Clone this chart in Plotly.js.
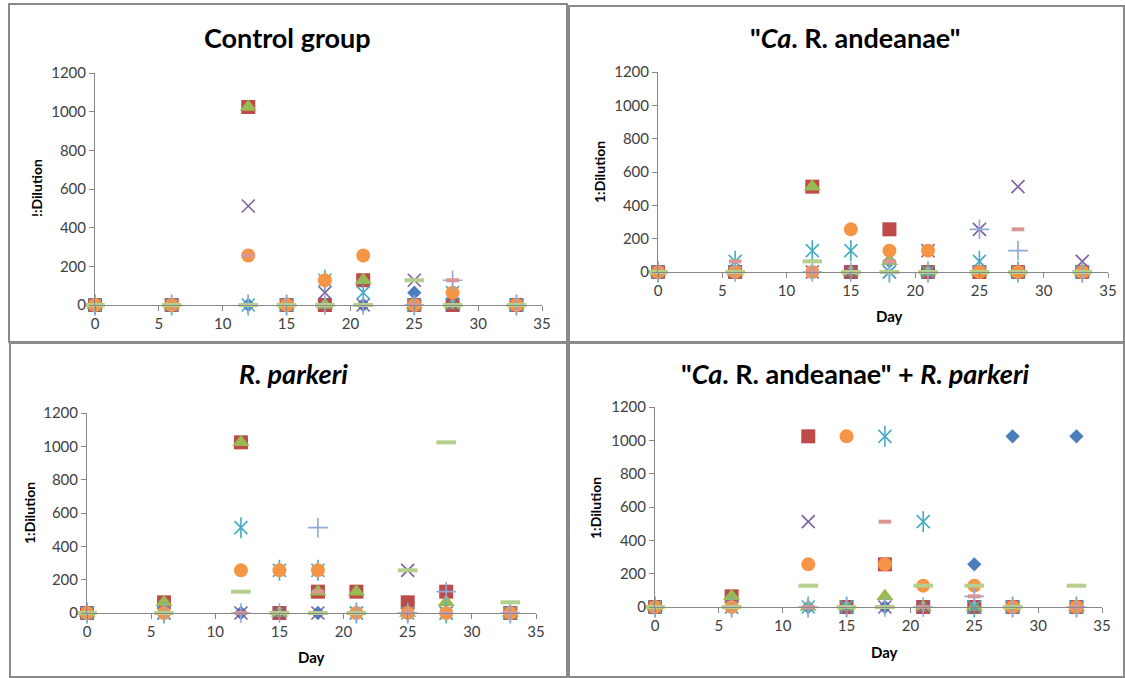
<!DOCTYPE html>
<html>
<head>
<meta charset="utf-8">
<script src="https://cdn.plot.ly/plotly-3.0.1.min.js"></script>
<style>
html,body{margin:0;padding:0;background:#fff;}
#chart{width:1125px;height:678px;}
</style>
</head>
<body>
<div id="chart"></div>
<script>
// Sampling days (x values, shared by every series)
var days = [0, 6, 12, 15, 18, 21, 25, 28, 33];

// Panel titles and axis titles
var panelTitles = [
  'Control group',
  '"<i>Ca</i>. R. andeanae"',
  '<i>R. parkeri</i>',
  '"<i>Ca</i>. R. andeanae" + <i>R. parkeri</i>'
];
var yTitles = ['!:Dilution', '1:Dilution', '1:Dilution', '1:Dilution'];
var xTitles = ['', 'Day', 'Day', 'Day'];
var xTickVals = [0, 5, 10, 15, 20, 25, 30, 35];
var yTickVals = [0, 200, 400, 600, 800, 1000, 1200];

// Series (one row per series, in Excel marker order:
// diamond, square, triangle, x, star, circle, plus, short dash, long dash)
var controlGroup = [
  [0, 0, 0,    0, 0,   0,   64,  0,   0],
  [0, 0, 1024, 0, 0,   128, 0,   0,   0],
  [0, 0, 1024, 0, 0,   128, 0,   0,   0],
  [0, 0, 512,  0, 64,  0,   128, 0,   0],
  [0, 0, 0,    0, 128, 64,  0,   64,  0],
  [0, 0, 256,  0, 128, 256, 0,   64,  0],
  [0, 0, 0,    0, 0,   0,   0,   128, 0],
  [0, 0, 256,  0, 0,   0,   0,   128, 0],
  [0, 0, 0,    0, 0,   0,   128, 0,   0]
];
var andeanae = [
  [0, 0,  0,   0,   64,  0,   0,   0,   0],
  [0, 0,  512, 0,   256, 0,   0,   0,   0],
  [0, 0,  512, 0,   64,  0,   0,   0,   0],
  [0, 0,  0,   0,   0,   128, 256, 512, 64],
  [0, 64, 128, 128, 0,   0,   64,  0,   0],
  [0, 0,  0,   256, 128, 128, 0,   0,   0],
  [0, 0,  0,   0,   0,   0,   256, 128, 0],
  [0, 64, 0,   0,   64,  0,   0,   256, 0],
  [0, 0,  64,  0,   0,   0,   0,   0,   0]
];
var parkeri = [
  [0, 0,  0,    0,   0,   0,   0,   0,    0],
  [0, 64, 1024, 0,   128, 128, 64,  128,  0],
  [0, 64, 1024, 0,   128, 128, 0,   64,   0],
  [0, 0,  0,    0,   0,   0,   256, 0,    0],
  [0, 0,  512,  256, 256, 0,   0,   0,    0],
  [0, 0,  256,  256, 256, 0,   0,   0,    0],
  [0, 0,  0,    0,   512, 0,   0,   128,  0],
  [0, 0,  0,    0,   128, 0,   0,   0,    0],
  [0, 0,  128,  0,   0,   0,   256, 1024, 64]
];
var coinfected = [
  [0, 0,  0,    0,    0,    0,   256, 1024, 1024],
  [0, 64, 1024, 0,    256,  0,   0,   0,    0],
  [0, 64, 0,    0,    64,   0,   0,   0,    0],
  [0, 0,  512,  0,    0,    0,   0,   0,    0],
  [0, 0,  0,    0,    1024, 512, 0,   0,    0],
  [0, 0,  256,  1024, 256,  128, 128, 0,    0],
  [0, 0,  0,    0,    0,    0,   64,  0,    0],
  [0, 0,  0,    0,    512,  0,   64,  0,    0],
  [0, 0,  128,  0,    0,    128, 128, 0,    128]
];
var panels = [controlGroup, andeanae, parkeri, coinfected];

// Marker styles (Excel 2007 default series sequence); a series may use
// several overlaid symbols (the Excel "star" is an x plus a vertical bar)
var markerStyles = [
  [{symbol: 'diamond', size: 11, color: '#4A7EBB'}],
  [{symbol: 'square', size: 14, color: '#BE4B48'}],
  [{symbol: 'triangle-up', size: 15, color: '#98B954'}],
  [{symbol: 'x-thin-open', size: 13, color: '#7D60A0', lw: 1.6}],
  [{symbol: 'x-thin-open', size: 13, color: '#46AAC5', lw: 1.6},
   {symbol: 'line-ns-open', size: 15, color: '#46AAC5', lw: 1.6}],
  [{symbol: 'circle', size: 14, color: '#F69545'}],
  [{symbol: 'cross-thin-open', size: 14, color: '#8FA9D8', lw: 1.6}],
  [{symbol: 'line-ew-open', size: 9, color: '#DA9694', lw: 4}],
  [{symbol: 'line-ew-open', size: 14, color: '#B5CF8C', lw: 4}]
];

// Geometry (pixels in a 1125x678 page)
var W = 1125, H = 678;
var plotBoxes = [
  {x0: 95, x1: 542, y0: 73, y1: 305},
  {x0: 658, x1: 1108, y0: 72, y1: 272},
  {x0: 87, x1: 536, y0: 413, y1: 613},
  {x0: 655, x1: 1102, y0: 407, y1: 607}
];
var titlePos = [[287, 37], [855, 37], [293, 373], [855, 373]];
var yTitlePos = [[36, 188], [599, 172], [29, 513], [595, 508]];
var xTitlePos = [[0, 0], [889, 316], [311, 657], [884, 652]];
var frames = [
  [9, 4, 567, 342],
  [569, 6, 1124, 342],
  [10, 343, 567, 677],
  [569, 343, 1124, 677]
];

var FONT = 'Lato, "Open Sans", sans-serif';
var traces = [];
var layout = {
  width: W, height: H,
  margin: {l: 0, r: 0, t: 0, b: 0},
  paper_bgcolor: '#ffffff', plot_bgcolor: 'rgba(0,0,0,0)',
  showlegend: false,
  font: {family: FONT, color: '#404040'},
  annotations: [], shapes: []
};

panels.forEach(function (panel, p) {
  var sfx = p === 0 ? '' : String(p + 1);
  var b = plotBoxes[p];
  layout['xaxis' + sfx] = {
    domain: [b.x0 / W, b.x1 / W],
    anchor: 'y' + sfx,
    range: [0, 35], tickvals: xTickVals, ticktext: xTickVals.map(String),
    showline: true, linecolor: '#888888', linewidth: 1,
    ticks: 'outside', ticklen: 5, tickcolor: '#888888',
    showgrid: false, zeroline: false,
    tickfont: {family: FONT, size: 15, color: '#404040'}
  };
  layout['yaxis' + sfx] = {
    domain: [1 - b.y1 / H, 1 - b.y0 / H],
    anchor: 'x' + sfx,
    range: [0, 1200], tickvals: yTickVals, ticktext: yTickVals.map(String),
    showline: true, linecolor: '#888888', linewidth: 1,
    ticks: 'outside', ticklen: 5, tickcolor: '#888888',
    showgrid: false, zeroline: false,
    tickfont: {family: FONT, size: 15, color: '#404040'}
  };
  panel.forEach(function (vals, s) {
    markerStyles[s].forEach(function (st) {
      var mk = {symbol: st.symbol, size: st.size, color: st.color};
      mk.line = st.lw ? {width: st.lw, color: st.color} : {width: 0};
      traces.push({
        type: 'scatter', mode: 'markers',
        x: days, y: vals,
        xaxis: 'x' + sfx, yaxis: 'y' + sfx,
        marker: mk, cliponaxis: false, hoverinfo: 'skip'
      });
    });
  });
  layout.annotations.push({
    text: '<b>' + panelTitles[p] + '</b>', showarrow: false,
    xref: 'paper', yref: 'paper',
    x: titlePos[p][0] / W, y: 1 - titlePos[p][1] / H,
    xanchor: 'center', yanchor: 'middle',
    font: {family: FONT, size: 27, color: '#000000'}
  });
  layout.annotations.push({
    text: '<b>' + yTitles[p] + '</b>', showarrow: false, textangle: -90,
    xref: 'paper', yref: 'paper',
    x: yTitlePos[p][0] / W, y: 1 - yTitlePos[p][1] / H,
    xanchor: 'center', yanchor: 'middle',
    font: {family: FONT, size: 14, color: '#000000'}
  });
  if (xTitles[p]) {
    layout.annotations.push({
      text: '<b>' + xTitles[p] + '</b>', showarrow: false,
      xref: 'paper', yref: 'paper',
      x: xTitlePos[p][0] / W, y: 1 - xTitlePos[p][1] / H,
      xanchor: 'center', yanchor: 'middle',
      font: {family: FONT, size: 15, color: '#000000'}
    });
  }
  var f = frames[p];
  layout.shapes.push({
    type: 'rect', xref: 'paper', yref: 'paper',
    x0: f[0] / W, x1: f[2] / W, y0: 1 - f[3] / H, y1: 1 - f[1] / H,
    line: {color: '#8a8a8a', width: 2}, fillcolor: 'rgba(0,0,0,0)', layer: 'below'
  });
});

Plotly.newPlot('chart', traces, layout, {staticPlot: true, displayModeBar: false});
</script>
</body>
</html>
